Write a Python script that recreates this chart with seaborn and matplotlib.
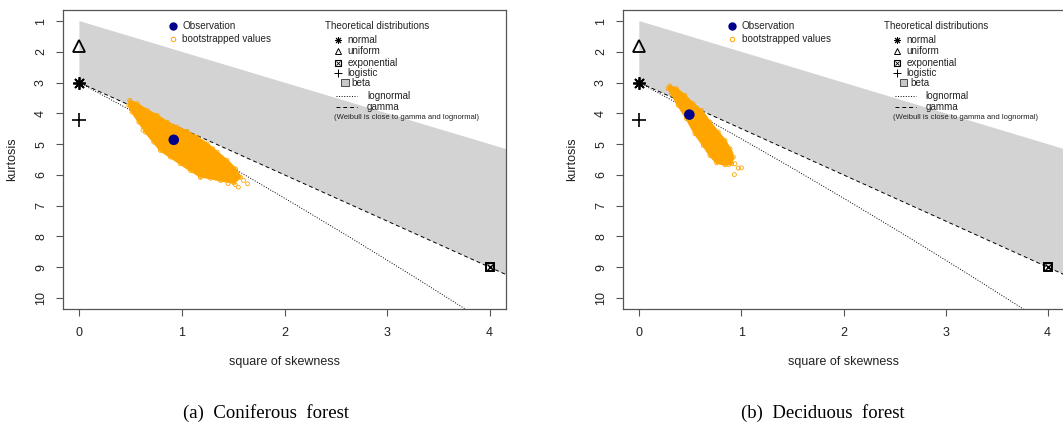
import numpy as np
import pandas as pd
import seaborn as sns
import matplotlib.pyplot as plt
from matplotlib.patches import Rectangle

sns.set_style("white")
plt.rcParams['font.family'] = ['Liberation Sans', 'DejaVu Sans']

# theoretical distributions (square of skewness, kurtosis)
norm_pt = (0, 3)
unif_pt = (0, 1.8)
expo_pt = (4, 9)
logis_pt = (0, 4.2)

# beta area, gamma line, lognormal curve
beta_skew2 = [0, 4.2, 4.2, 0]
beta_kurt = [1, 5.2, 9.3, 3]
gamma_skew2 = [0, 4.2]
gamma_kurt = [3, 9.3]
lnorm_skew2 = [0, 0.465, 0.961, 1.488, 2.048, 2.641, 3.267, 3.928]
lnorm_kurt = [3, 3.838, 4.756, 5.759, 6.850, 8.035, 9.320, 10.710]

# (a) coniferous forest: observation, outline of the bootstrap cloud, stray values
conif_obs = (0.92, 4.86)
conif_cloud_x = [0.491, 0.563, 0.660, 0.758, 0.856, 0.953, 1.051, 1.148, 1.246, 1.343, 1.441, 1.522, 1.571,
                 1.506, 1.376, 1.278, 1.180, 1.083, 0.985, 0.888, 0.790, 0.725, 0.644, 0.579, 0.514, 0.481]
conif_cloud_y = [3.576, 3.685, 3.902, 4.065, 4.283, 4.446, 4.587, 4.772, 4.989, 5.261, 5.532, 5.804, 6.076,
                 6.259, 6.184, 6.108, 6.054, 5.858, 5.641, 5.424, 5.206, 4.935, 4.609, 4.283, 3.957, 3.739]
conif_stray_x = [1.64, 1.52, 1.55, 1.18, 0.76, 1.45, 1.30, 0.62, 1.60]
conif_stray_y = [6.29, 6.32, 6.40, 6.08, 4.93, 6.28, 5.15, 4.55, 6.18]

# (b) deciduous forest
decid_obs = (0.49, 4.04)
decid_cloud_x = [0.298, 0.364, 0.445, 0.527, 0.609, 0.691, 0.773, 0.839, 0.888, 0.921,
                 0.904, 0.839, 0.757, 0.691, 0.626, 0.544, 0.462, 0.380, 0.315, 0.282]
decid_cloud_y = [3.110, 3.196, 3.413, 3.685, 3.902, 4.283, 4.609, 4.880, 5.152, 5.424,
                 5.641, 5.674, 5.608, 5.369, 5.043, 4.663, 4.174, 3.739, 3.358, 3.196]
decid_stray_x = [0.937, 0.970, 0.931, 0.872, 0.898, 1.00]
decid_stray_y = [5.64, 5.78, 5.99, 5.67, 5.29, 5.77]

captions = ['(a)  Coniferous  forest', '(b)  Deciduous  forest']
theo_labels = ['normal', 'uniform', 'exponential', 'logistic', 'beta', 'lognormal', 'gamma']

TXT = '#222222'
FRAME = '#555555'


def draw_legend(ax):
    tr = ax.transAxes
    fs = 7.1
    ax.plot([0.248], [0.946], 'o', color='darkblue', ms=5, transform=tr, clip_on=False)
    ax.text(0.269, 0.946, 'Observation', va='center', fontsize=fs, color=TXT, transform=tr)
    ax.plot([0.248], [0.902], 'o', mfc='none', mec='orange', ms=3.2, mew=0.7, transform=tr, clip_on=False)
    ax.text(0.269, 0.902, 'bootstrapped values', va='center', fontsize=fs, color=TXT, transform=tr)

    ax.text(0.592, 0.946, 'Theoretical distributions', va='center', fontsize=fs, color=TXT, transform=tr)
    mx, tx = 0.621, 0.643
    rows = [0.8997, 0.8629, 0.8237, 0.7883, 0.7569, 0.7124, 0.6746]
    ax.plot([mx], [rows[0]], marker=(8, 2, 0), color='black', ms=5, mew=0.7, transform=tr)
    ax.plot([mx], [rows[1]], marker='^', mfc='none', mec='black', ms=4.5, mew=0.7, transform=tr)
    ax.plot([mx], [rows[2]], marker='s', mfc='none', mec='black', ms=4, mew=0.8, transform=tr)
    ax.plot([mx], [rows[2]], marker='x', color='black', ms=3, mew=0.6, transform=tr)
    ax.plot([mx], [rows[3]], marker='+', color='black', ms=5.5, mew=0.7, transform=tr)
    ax.add_patch(Rectangle((0.628, rows[4] - 0.011), 0.017, 0.024, transform=tr,
                           facecolor='#c8c8c8', edgecolor='#333333', lw=0.6))
    ax.plot([0.616, 0.664], [rows[5]] * 2, color='black', ls=':', lw=0.7, transform=tr)
    ax.plot([0.616, 0.664], [rows[6]] * 2, color='black', ls=(0, (4, 3)), lw=0.7, transform=tr)
    for i, lab in enumerate(theo_labels):
        x = tx
        if lab == 'beta':
            x = 0.652
        if lab in ('lognormal', 'gamma'):
            x = 0.686
        ax.text(x, rows[i], lab, va='center', fontsize=fs, color=TXT, transform=tr)
    ax.text(0.612, 0.641, '(Weibull is close to gamma and lognormal)', va='center',
            fontsize=5.5, color=TXT, transform=tr)


def draw_panel(ax, obs, cx, cy, sx, sy):
    # beta region and theoretical lines
    ax.fill(beta_skew2, beta_kurt, color='#d3d3d3', lw=0, zorder=1)
    sns.lineplot(x=gamma_skew2, y=gamma_kurt, ax=ax, color='black', lw=0.7,
                 linestyle=(0, (4, 3)), sort=False, estimator=None, zorder=2)
    sns.lineplot(x=lnorm_skew2, y=lnorm_kurt, ax=ax, color='black', lw=0.7,
                 linestyle=':', sort=False, estimator=None, zorder=2)

    # bootstrapped values
    ax.fill(cx, cy, facecolor='orange', edgecolor='orange', lw=1.5, joinstyle='round', zorder=3)
    ax.scatter(cx + sx, cy + sy, s=8, facecolors='none', edgecolors='orange', linewidths=0.6, zorder=3)

    # observation
    sns.scatterplot(x=[obs[0]], y=[obs[1]], ax=ax, color='darkblue', s=58, edgecolor='none', zorder=5)

    # theoretical points
    ax.plot(*norm_pt, marker=(8, 2, 0), color='black', ms=9, mew=1.3, zorder=6)
    ax.plot(*unif_pt, marker='^', mfc='none', mec='black', ms=8.5, mew=1.3, zorder=6)
    ax.plot(*logis_pt, marker='+', color='black', ms=10, mew=1.2, zorder=6)
    ax.plot(*expo_pt, marker='s', mfc='none', mec='black', ms=5.8, mew=1.4, zorder=6, clip_on=False)
    ax.plot(*expo_pt, marker='x', color='black', ms=4.2, mew=1.0, zorder=6, clip_on=False)

    ax.set_xlim(-0.16, 4.16)
    ax.set_ylim(10.36, 0.64)
    ax.set_xticks(range(0, 5))
    ax.set_yticks(range(1, 11))
    ax.tick_params(axis='both', direction='out', length=5, width=0.8, color=FRAME,
                   labelsize=9, labelcolor=TXT, bottom=True, left=True)
    ax.tick_params(axis='x', pad=8)
    ax.tick_params(axis='y', pad=6.5)
    for lab in ax.get_yticklabels():
        lab.set_rotation(90)
        lab.set_va('center')
    for sp in ax.spines.values():
        sp.set_color(FRAME)
        sp.set_linewidth(0.9)
    ax.set_xlabel('square of skewness', fontsize=9, color=TXT)
    ax.set_ylabel('kurtosis', fontsize=9, color=TXT)
    ax.xaxis.set_label_coords(0.5, -0.158)
    ax.yaxis.set_label_coords(-0.102, 0.5)
    draw_legend(ax)


fig = plt.figure(figsize=(10.63, 4.28), dpi=100)
ax1 = fig.add_axes([63 / 1063, 119 / 428, 443 / 1063, 299 / 428])
ax2 = fig.add_axes([623 / 1063, 119 / 428, 441 / 1063, 299 / 428])

draw_panel(ax1, conif_obs, conif_cloud_x, conif_cloud_y, conif_stray_x, conif_stray_y)
draw_panel(ax2, decid_obs, decid_cloud_x, decid_cloud_y, decid_stray_x, decid_stray_y)

fig.text(266 / 1063, 1 - 413 / 428, captions[0], ha='center', va='center',
         family='Liberation Serif', fontsize=13.5, color='black')
fig.text(823 / 1063, 1 - 413 / 428, captions[1], ha='center', va='center',
         family='Liberation Serif', fontsize=13.5, color='black')

fig.savefig('out.png', dpi=100, facecolor='white')
